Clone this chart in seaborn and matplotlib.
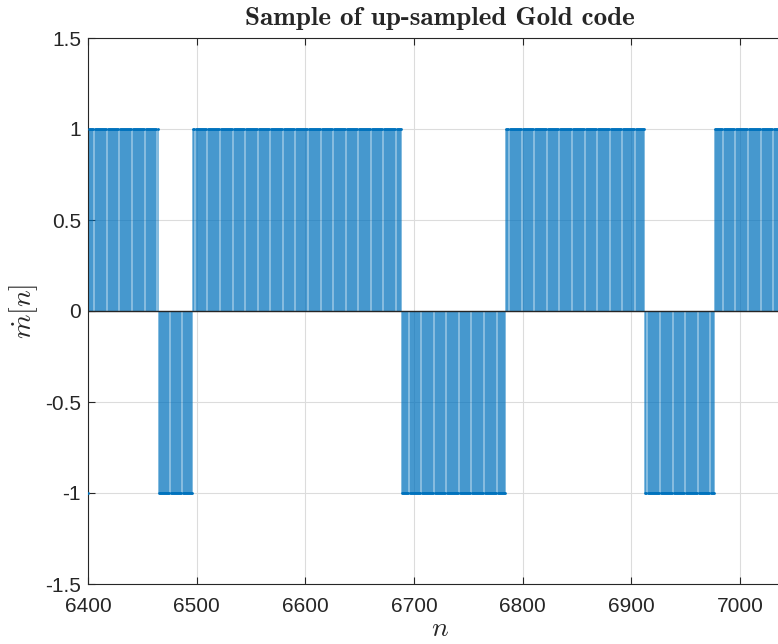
import numpy as np
import pandas as pd
import matplotlib
matplotlib.use("Agg")
import matplotlib.pyplot as plt
import seaborn as sns

# ---- data ----
upsample_factor = 32
first_chip_start = 6369
chip_values = [-1, 1, 1, -1, 1, 1, 1, 1, 1, 1, -1, -1, -1,
               1, 1, 1, 1, -1, -1, 1, 1]
x_ticks = [6400, 6500, 6600, 6700, 6800, 6900, 7000]
y_ticks = [-1.5, -1, -0.5, 0, 0.5, 1, 1.5]
y_tick_labels = ["-1.5", "-1", "-0.5", "0", "0.5", "1", "1.5"]
title_text = "Sample of up-sampled Gold code"

signal = np.repeat(chip_values, upsample_factor)
n = np.arange(first_chip_start, first_chip_start + len(signal))
df = pd.DataFrame({"n": n, "m": signal})
df = df[df["n"] >= 6400]

sns.set_theme(style="whitegrid")
plt.rcParams["font.family"] = ["Liberation Sans", "DejaVu Sans"]
plt.rcParams["mathtext.fontset"] = "cm"

fig = plt.figure(figsize=(7.78, 6.44), dpi=100)
# axes extends slightly past the right edge of the figure (cropped, as in the reference)
ax = fig.add_axes([88/778, 60/644, 704/778, 546/644])

stem_color = "#0072BD"
ax.vlines(df["n"], 0, df["m"], color=stem_color, linewidth=1.1, alpha=0.62)
sns.scatterplot(data=df, x="n", y="m", ax=ax, color=stem_color, s=4,
                linewidth=0, legend=False, zorder=3)
ax.axhline(0, color="#262626", linewidth=1.0, zorder=4)

ax.set_xlim(6400, 7048)
ax.set_ylim(-1.5, 1.5)
ax.set_xticks(x_ticks)
ax.set_yticks(y_ticks)
ax.set_yticklabels(y_tick_labels)
ax.tick_params(axis="both", which="both", direction="in", length=5,
               width=0.8, color="#262626", labelsize=15, labelcolor="#262626",
               top=True, right=False, bottom=True, left=True)
ax.tick_params(axis="x", pad=9)
ax.tick_params(axis="y", pad=5)

ax.grid(True, color="#dcdcdc", linewidth=0.8)
ax.set_facecolor("white")
for side in ["left", "bottom", "top"]:
    ax.spines[side].set_visible(True)
    ax.spines[side].set_color("#262626")
    ax.spines[side].set_linewidth(0.8)
ax.spines["right"].set_visible(False)

ax.set_xlabel("$n$", fontsize=20, labelpad=0, color="#262626")
ax.set_ylabel(r"$\dot{m}[n]$", fontsize=20, labelpad=4, color="#262626")
ax.set_title(title_text, fontfamily="cmb10", fontsize=19.5, pad=9,
             color="#262626")

fig.savefig("out.png", dpi=100)
